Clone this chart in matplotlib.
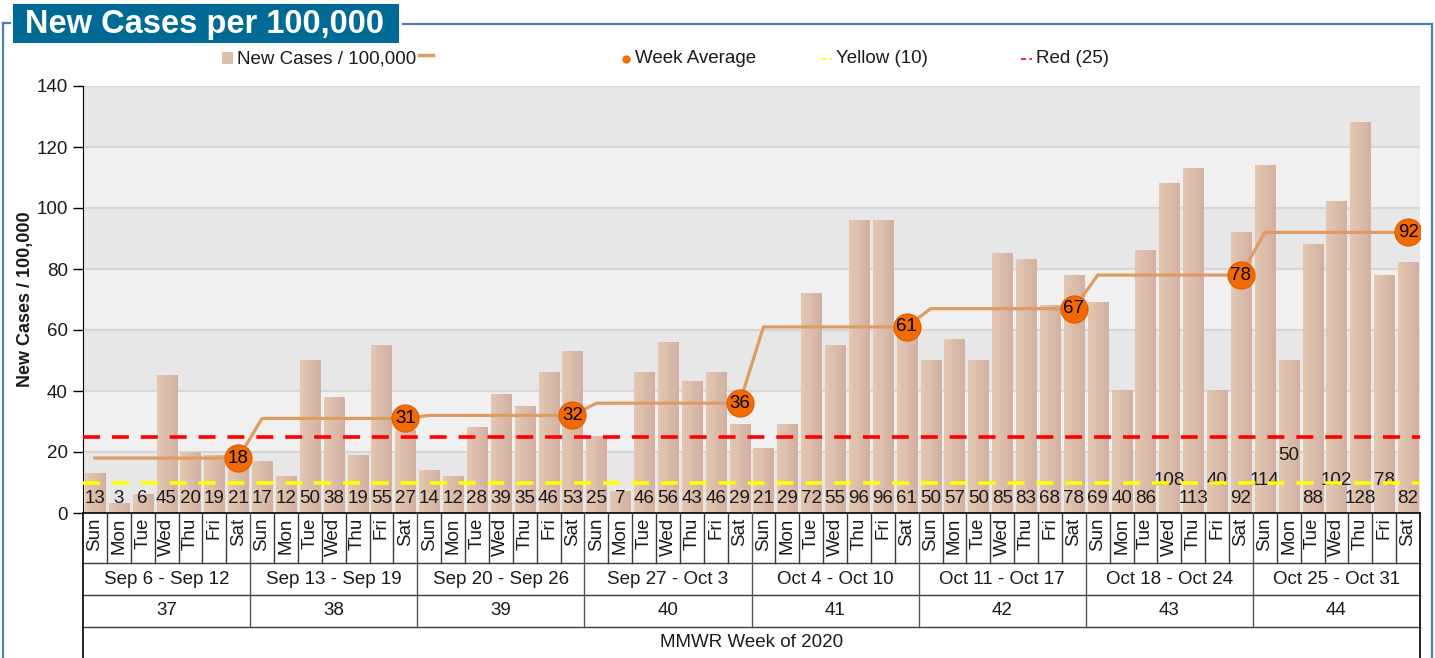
import numpy as np
import matplotlib
matplotlib.use('Agg')
import matplotlib.pyplot as plt
from matplotlib.patches import Rectangle
from matplotlib.lines import Line2D
from matplotlib.colors import LinearSegmentedColormap

plt.rcParams['font.family'] = ['Liberation Sans', 'DejaVu Sans']

# ---- data ----
DAYS = ['Sun', 'Mon', 'Tue', 'Wed', 'Thu', 'Fri', 'Sat']
WEEK_RANGES = ['Sep 6 - Sep 12', 'Sep 13 - Sep 19', 'Sep 20 - Sep 26', 'Sep 27 - Oct 3',
               'Oct 4 - Oct 10', 'Oct 11 - Oct 17', 'Oct 18 - Oct 24', 'Oct 25 - Oct 31']
WEEK_NUMS = ['37', '38', '39', '40', '41', '42', '43', '44']
NEW_CASES = [13, 3, 6, 45, 20, 19, 21,
             17, 12, 50, 38, 19, 55, 27,
             14, 12, 28, 39, 35, 46, 53,
             25, 7, 46, 56, 43, 46, 29,
             21, 29, 72, 55, 96, 96, 61,
             50, 57, 50, 85, 83, 68, 78,
             69, 40, 86, 108, 113, 40, 92,
             114, 50, 88, 102, 128, 78, 82]
WEEK_AVG = [18, 31, 32, 36, 61, 67, 78, 92]
YELLOW = 10
RED = 25

# labels that the original chart moved up to avoid overlap (index -> y value)
LABEL_LIFT = {45: 10.8, 47: 10.8, 49: 10.8, 50: 19, 52: 10.8, 54: 10.8}

TXT = '#1a1a1a'
FS = 13.5

fig = plt.figure(figsize=(14.35, 6.58), dpi=100)
ax = fig.add_axes([83 / 1435, 1 - 513 / 658, (1420 - 83) / 1435, 427 / 658])

n = len(NEW_CASES)
x = np.arange(n)

# background bands + grid
for i, lo in enumerate(range(0, 140, 20)):
    ax.axhspan(lo, lo + 20, color='#e7e7e7' if i % 2 == 0 else '#f0f0f0', zorder=0, lw=0)
for g in range(20, 141, 20):
    ax.axhline(g, color='#d6d6d6', lw=1.6, zorder=0.5)

# bars with a left-to-right gradient
cmap = LinearSegmentedColormap.from_list('bar', ['#e3c8b1', '#d3b0a2'])
grad = np.linspace(0, 1, 32).reshape(1, -1)
w = 0.84
for xi, h in zip(x, NEW_CASES):
    ax.imshow(grad, extent=(xi - w / 2, xi + w / 2, 0, h), cmap=cmap,
              aspect='auto', zorder=2, interpolation='bilinear')

# threshold lines
ax.axhline(RED, color='#ff0000', lw=2.6, dashes=(4.7, 3.3), zorder=3)
ax.axhline(YELLOW, color='#ffff00', lw=2.6, dashes=(4.7, 3.3), zorder=3)

# value labels
for i, v in enumerate(NEW_CASES):
    ax.text(i, LABEL_LIFT.get(i, 4.9), str(v), ha='center', va='center',
            fontsize=FS, color=TXT, zorder=2.5)

# week average line + markers on Saturdays
avg_daily = np.repeat(WEEK_AVG, 7)
ax.plot(x, avg_daily, color='#dc9c62', lw=2.3, zorder=4, solid_joinstyle='round')
sat = x[6::7]
ax.plot(sat, WEEK_AVG, ls='none', marker='o', ms=19.5, mfc='#f26a00',
        mec='#dd5c00', mew=0.8, zorder=5)
for xs, v in zip(sat, WEEK_AVG):
    ax.text(xs, v, str(v), ha='center', va='center', fontsize=FS, color='black', zorder=6)

ax.set_xlim(-0.5, n - 0.5)
ax.set_ylim(0, 140)
ax.set_yticks(range(0, 141, 20))
ax.tick_params(axis='y', length=7, width=1, color='black', labelsize=FS,
               labelcolor=TXT, pad=4)
ax.set_xticks([])
for s in ['top', 'right', 'bottom']:
    ax.spines[s].set_visible(False)
ax.spines['left'].set_color('black')
ax.set_ylabel('New Cases / 100,000', fontsize=13, fontweight='bold', color=TXT, labelpad=2)

# ---- category table under the axis ----
tr = ax.get_xaxis_transform()
ROW_DAY, ROW_RANGE, ROW_WEEK, ROW_END = -0.1164, -0.192, -0.2677, -0.36
LC = '#3a3a3a'


def seg(x0, x1, y0, y1, c=LC, lw=1.0):
    ax.add_line(Line2D([x0, x1], [y0, y1], transform=tr, color=c, lw=lw, clip_on=False, zorder=7))


seg(-0.5, n - 0.5, 0, 0, c='black', lw=1.2)
for y in (ROW_DAY, ROW_RANGE, ROW_WEEK):
    seg(-0.5, n - 0.5, y, y)
seg(-0.5, -0.5, 0, ROW_END, c='black', lw=1.2)
seg(n - 0.5, n - 0.5, 0, ROW_END, c='black', lw=1.2)
for i in range(1, n):
    bottom = ROW_WEEK if i % 7 == 0 else ROW_DAY
    seg(i - 0.5, i - 0.5, 0, bottom, c=LC if i % 7 else '#555555')

for i in range(n):
    ax.text(i, -0.011, DAYS[i % 7], transform=tr, rotation=90, ha='center', va='top',
            fontsize=FS, color=TXT)
for k, (rng, wk) in enumerate(zip(WEEK_RANGES, WEEK_NUMS)):
    c = 7 * k + 3
    ax.text(c, -0.155, rng, transform=tr, ha='center', va='center', fontsize=FS, color=TXT)
    ax.text(c, -0.2295, wk, transform=tr, ha='center', va='center', fontsize=FS, color=TXT)
ax.text((n - 1) / 2, -0.3044, 'MMWR Week of 2020', transform=tr, ha='center', va='center',
        fontsize=FS, color=TXT)

# ---- frame and title ----
FW, FH = 1435, 658


def fx(px):
    return px / FW


def fy(py):
    return 1 - py / FH


FRAME = '#4f7fb8'
for xs_, ys_ in [([403, 1432], [24, 24]), ([1432, 1432], [24, 660]),
                 ([3, 3], [23, 660]), ([3, 10], [23, 23])]:
    fig.add_artist(Line2D([fx(v) for v in xs_], [fy(v) for v in ys_], color=FRAME, lw=1.6))

fig.add_artist(Rectangle((fx(13), fy(43)), fx(399) - fx(13), fy(4) - fy(43),
                         transform=fig.transFigure, color='#006a96', lw=0))
fig.text(fx(25), fy(24.5), 'New Cases per 100,000', color='white', fontsize=23.5,
         fontweight='bold', ha='left', va='center')

# ---- legend ----
ly = fy(58.5)
fig.add_artist(Rectangle((fx(222), fy(63.5)), fx(11), 11 / FH, transform=fig.transFigure,
                         color='#dcbfa9', lw=0))
fig.text(fx(237), ly, 'New Cases / 100,000', fontsize=FS, color=TXT, va='center')
fig.add_artist(Line2D([fx(419), fx(433)], [fy(55), fy(55)], color='#dc9c62', lw=2.5))
fig.add_artist(Line2D([fx(626)], [ly], marker='o', ms=5, color='#f07000', ls='none'))
fig.text(fx(635), ly, 'Week Average', fontsize=FS, color=TXT, va='center')
fig.add_artist(Line2D([fx(821), fx(832)], [ly, ly], color='#ffff00', lw=1.2, dashes=(3, 2)))
fig.text(fx(836), ly, 'Yellow (10)', fontsize=FS, color=TXT, va='center')
fig.add_artist(Line2D([fx(1021), fx(1032)], [ly, ly], color='#ff0000', lw=1.2, dashes=(3, 2)))
fig.text(fx(1036), ly, 'Red (25)', fontsize=FS, color=TXT, va='center')

fig.savefig('out.png', dpi=100, facecolor='white')
